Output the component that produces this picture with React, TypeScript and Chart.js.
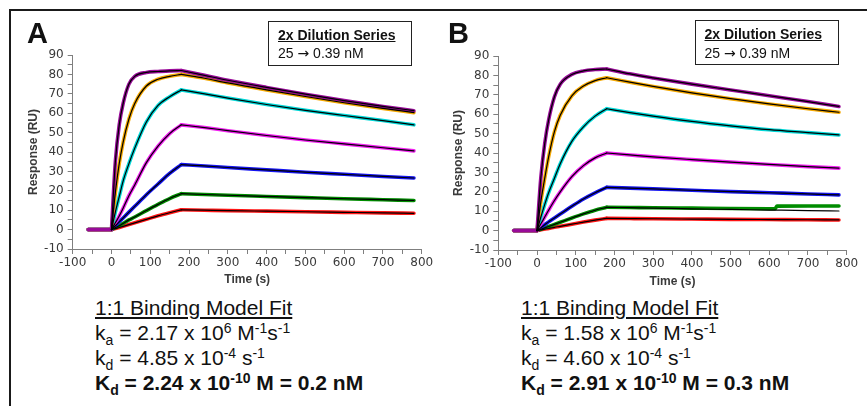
import React, { useEffect, useRef } from 'react';
import { Chart, registerables } from 'chart.js';

Chart.register(...registerables);

// ---------- data ----------
const TIMES = [-60, 0, 10, 20, 30, 45, 60, 90, 120, 150, 180, 240, 300, 400, 500, 600, 700, 780];
const X_TICKS_MIN = -100;
const X_TICKS_MAX = 800;
const Y_TICKS_MIN = -10;
const Y_TICKS_MAX = 90;
const CONCENTRATIONS = ['25 nM', '12.5 nM', '6.25 nM', '3.13 nM', '1.56 nM', '0.78 nM', '0.39 nM'];

// Panel A (observed responses, RU)
const A_25 = [0, 0, 35, 54, 65, 75, 79, 81, 81.5, 81.8, 82, 79.5, 77, 73.3, 69.8, 66.5, 63.5, 61.3];
const A_12_5 = [0, 0, 19, 34, 45, 57, 65, 74, 77.5, 79, 80, 78, 75.6, 72, 68.6, 65.4, 62.5, 60.3];
const A_6_25 = [0, 0, 9, 17, 25, 34, 42, 55.5, 64, 68.5, 72, 70, 67.8, 64.5, 61.5, 58.8, 56.2, 54];
const A_3_13 = [0, 0, 3.5, 7, 11, 17.5, 23, 34.5, 43, 49.5, 54, 52.6, 51, 48.5, 46.2, 44.2, 42.2, 40.6];
const A_1_56 = [0, 0, 2, 4, 6, 9, 12, 18, 23.5, 29, 33.5, 32.8, 32, 30.8, 29.6, 28.5, 27.4, 26.6];
const A_0_78 = [0, 0, 1, 2, 3.2, 5, 6.5, 9.8, 13, 16, 18.5, 18.1, 17.7, 17.1, 16.5, 15.9, 15.4, 15];
const A_0_39 = [0, 0, 0.5, 1.1, 1.7, 2.6, 3.5, 5.3, 7.1, 8.7, 10.2, 10, 9.8, 9.5, 9.2, 8.9, 8.6, 8.4];

// Panel B (observed responses, RU)
const B_25 = [0, 0, 27.5, 45, 57, 69, 75.5, 80.5, 82.3, 83, 83.3, 80.8, 78.7, 75.5, 72.5, 69.5, 66.5, 64];
const B_12_5 = [0, 0, 15, 27, 38, 51, 59.5, 69.5, 74.5, 77.3, 78.8, 76.5, 74.3, 71, 68, 65.3, 62.8, 61];
const B_6_25 = [0, 0, 7, 13.5, 19.5, 27, 34.5, 46, 53.5, 59, 62.8, 60.8, 59, 56.3, 54, 52, 50.5, 49.3];
const B_3_13 = [0, 0, 3.5, 7, 10.5, 15.5, 20, 27.8, 33.5, 37.5, 40, 39, 38, 36.6, 35.3, 34.1, 33, 32.2];
const B_1_56 = [0, 0, 1.5, 3, 4.5, 6.5, 8.5, 12.5, 16.3, 19.5, 22.3, 21.9, 21.5, 20.8, 20.1, 19.5, 18.9, 18.4];
const B_0_78_TIMES = [-60, 0, 10, 20, 30, 45, 60, 90, 120, 150, 180, 240, 300, 400, 500, 600, 615, 620, 700, 780];
const B_0_78 = [0, 0, 0.7, 1.4, 2.1, 3.2, 4.3, 6.5, 8.6, 10.5, 12, 11.9, 11.8, 11.6, 11.4, 11.3, 11.3, 12.6, 12.7, 12.7];
const B_0_78_FIT = [0, 0, 0.7, 1.4, 2.1, 3.2, 4.3, 6.5, 8.6, 10.5, 12, 11.8, 11.6, 11.2, 10.9, 10.6, 10.3, 10.1];
const B_0_39 = [0, 0, 0.4, 0.8, 1.1, 1.7, 2.2, 3.3, 4.4, 5.4, 6.3, 6.2, 6.1, 5.95, 5.8, 5.7, 5.6, 5.5];

// ---------- styles ----------
const COLORS = ['#990a99', '#f5a800', '#00d8d8', '#f020f0', '#1414f0', '#008c00', '#ff1414'];
const FONT = '"Liberation Sans", Arial, Helvetica, sans-serif';
const TICK_FONT = '"DejaVu Sans", "Liberation Sans", Arial, sans-serif';
const AXIS_COLOR = '#7f7f7f';
const TEXT_COLOR = '#3a3a3a';

type Series = { label: string; times: number[]; values: number[]; fitTimes: number[]; fit: number[] };

const seriesA: Series[] = [A_25, A_12_5, A_6_25, A_3_13, A_1_56, A_0_78, A_0_39].map((v, i) => ({
  label: CONCENTRATIONS[i], times: TIMES, values: v, fitTimes: TIMES, fit: v,
}));

const seriesB: Series[] = [
  { label: CONCENTRATIONS[0], times: TIMES, values: B_25, fitTimes: TIMES, fit: B_25 },
  { label: CONCENTRATIONS[1], times: TIMES, values: B_12_5, fitTimes: TIMES, fit: B_12_5 },
  { label: CONCENTRATIONS[2], times: TIMES, values: B_6_25, fitTimes: TIMES, fit: B_6_25 },
  { label: CONCENTRATIONS[3], times: TIMES, values: B_3_13, fitTimes: TIMES, fit: B_3_13 },
  { label: CONCENTRATIONS[4], times: TIMES, values: B_1_56, fitTimes: TIMES, fit: B_1_56 },
  { label: CONCENTRATIONS[5], times: B_0_78_TIMES, values: B_0_78, fitTimes: TIMES, fit: B_0_78_FIT },
  { label: CONCENTRATIONS[6], times: TIMES, values: B_0_39, fitTimes: TIMES, fit: B_0_39 },
];

function toPoints(times: number[], values: number[]) {
  return times.map((t, i) => ({ x: t, y: values[i] }));
}

type Geo = {
  left: number; top: number; width: number; height: number;
  pad: { left: number; top: number; right: number; bottom: number };
  yWidth: number; xHeight: number;
};

function SprChart({ series, geo }: { series: Series[]; geo: Geo }) {
  const ref = useRef<HTMLCanvasElement>(null);
  useEffect(() => {
    const datasets: any[] = [];
    const base = { pointRadius: 0, fill: false, cubicInterpolationMode: 'monotone' as const, borderCapStyle: 'round' as const, borderJoinStyle: 'round' as const };
    series.forEach((s, i) => {
      const pts = toPoints(s.times, s.values);
      const fpts = toPoints(s.fitTimes, s.fit);
      const segs = [
        pts.filter((p) => p.x <= 0),
        pts.filter((p) => p.x >= 0 && p.x <= 180),
        pts.filter((p) => p.x >= 180),
      ];
      segs.forEach((d) => datasets.push({ ...base, label: s.label, data: d, borderColor: COLORS[i], borderWidth: 3.6, order: 2 }));
      [fpts.filter((p) => p.x >= 0 && p.x <= 180), fpts.filter((p) => p.x >= 180)].forEach((d) =>
        datasets.push({ ...base, label: s.label + ' fit', data: d, borderColor: '#000000', borderWidth: 1.2, order: 1 })
      );
    });
    const tickFont = { family: TICK_FONT, size: 12 };
    const titleFont = { family: FONT, size: 12, weight: 'bold' as const };
    const chart = new Chart(ref.current as HTMLCanvasElement, {
      type: 'line',
      data: { datasets },
      options: {
        animation: false,
        responsive: false,
        maintainAspectRatio: false,
        events: [],
        layout: { padding: geo.pad },
        plugins: { legend: { display: false }, tooltip: { enabled: false } },
        scales: {
          x: {
            type: 'linear',
            min: X_TICKS_MIN,
            max: X_TICKS_MAX,
            ticks: {
              stepSize: 50,
              autoSkip: false,
              maxRotation: 0,
              padding: 2,
              color: TEXT_COLOR,
              font: tickFont,
              callback: (v: any) => (Number(v) % 100 === 0 ? String(v) : ''),
            },
            grid: { drawOnChartArea: false, drawTicks: true, tickLength: 5, color: AXIS_COLOR },
            border: { color: AXIS_COLOR, width: 1 },
            title: { display: true, text: 'Time (s)', color: TEXT_COLOR, font: titleFont, padding: { top: 4, bottom: 4 } },
            afterFit: (s: any) => { s.height = geo.xHeight; },
          },
          y: {
            type: 'linear',
            min: Y_TICKS_MIN,
            max: Y_TICKS_MAX,
            ticks: {
              stepSize: 5,
              autoSkip: false,
              padding: 4,
              color: TEXT_COLOR,
              font: tickFont,
              callback: (v: any) => (Number(v) % 10 === 0 ? String(v) : ''),
            },
            grid: { drawOnChartArea: false, drawTicks: true, tickLength: 5, color: AXIS_COLOR },
            border: { color: AXIS_COLOR, width: 1 },
            title: { display: true, text: 'Response (RU)', color: TEXT_COLOR, font: titleFont, padding: { top: 4, bottom: 4 } },
            afterFit: (s: any) => { s.width = geo.yWidth; },
          },
        },
      } as any,
    });
    return () => chart.destroy();
  }, []);
  return (
    <canvas
      ref={ref}
      width={geo.width}
      height={geo.height}
      style={{ position: 'absolute', left: geo.left, top: geo.top, width: geo.width, height: geo.height }}
    />
  );
}

// text helper: place a line by its baseline
function Line({ left, baseline, size, bold, underline, children }: any) {
  const top = baseline - 0.8465 * size;
  return (
    <div
      style={{
        position: 'absolute', left, top, fontSize: size, lineHeight: size + 'px', whiteSpace: 'nowrap',
        fontWeight: bold ? 'bold' : 'normal', textDecoration: underline ? 'underline' : 'none', color: '#111',
      }}
    >
      {children}
    </div>
  );
}

const Sub = ({ children }: any) => (
  <span style={{ fontSize: 14, position: 'relative', top: 5, lineHeight: 0 }}>{children}</span>
);
const Sup = ({ children }: any) => (
  <span style={{ fontSize: 14, position: 'relative', top: -7, lineHeight: 0 }}>{children}</span>
);

function Results({ left, ka, kaExp, kd, kdExp, KD, KDExp, nM }: any) {
  return (
    <>
      <Line left={left} baseline={315} size={21} underline>1:1 Binding Model Fit</Line>
      <Line left={left} baseline={339.5} size={21}>
        k<Sub>a</Sub> = {ka} x 10<Sup>{kaExp}</Sup> M<Sup>-1</Sup>s<Sup>-1</Sup>
      </Line>
      <Line left={left} baseline={364.5} size={21}>
        k<Sub>d</Sub> = {kd} x 10<Sup>{kdExp}</Sup> s<Sup>-1</Sup>
      </Line>
      <Line left={left} baseline={390} size={21} bold>
        K<Sub>d</Sub> = {KD} x 10<Sup>{KDExp}</Sup> M = {nM} nM
      </Line>
    </>
  );
}

function DilutionBox({ left, top }: any) {
  return (
    <>
      <div style={{ position: 'absolute', left, top, width: 144, height: 45, boxSizing: 'border-box', border: '1.5px solid #222' }} />
      <Line left={left + 10} baseline={top + 18.8} size={14} bold underline>2x Dilution Series</Line>
      <Line left={left + 10} baseline={top + 37.6} size={14}>
        25 <span style={{ fontFamily: '"DejaVu Sans", sans-serif', fontSize: 14 }}>→</span> 0.39 nM
      </Line>
    </>
  );
}

const geoA: Geo = {
  left: 12, top: 30, width: 426, height: 265,
  pad: { left: 10, top: 25, right: 16.3, bottom: 3.8 },
  yWidth: 50.7, xHeight: 42.2,
};
const geoB: Geo = {
  left: 438, top: 30, width: 429, height: 265,
  pad: { left: 9.8, top: 26, right: 20.3, bottom: 2.3 },
  yWidth: 50.5, xHeight: 42.7,
};

export default function App() {
  return (
    <div
      style={{
        position: 'fixed', left: 0, top: 0, width: 867, height: 406, overflow: 'hidden',
        background: '#ffffff', fontFamily: FONT,
      }}
    >
      <div style={{ position: 'absolute', left: 9, top: 9, width: 900, height: 500, borderTop: '2px solid #1a1a1a', borderLeft: '2px solid #1a1a1a' }} />
      <SprChart series={seriesA} geo={geoA} />
      <SprChart series={seriesB} geo={geoB} />
      <Line left={27} baseline={44} size={29} bold>A</Line>
      <Line left={448} baseline={43.5} size={29} bold>B</Line>
      <DilutionBox left={268} top={20.7} />
      <DilutionBox left={694.5} top={20} />
      <Results left={95} ka="2.17" kaExp="6" kd="4.85" kdExp="-4" KD="2.24" KDExp="-10" nM="0.2" />
      <Results left={521} ka="1.58" kaExp="6" kd="4.60" kdExp="-4" KD="2.91" KDExp="-10" nM="0.3" />
    </div>
  );
}
